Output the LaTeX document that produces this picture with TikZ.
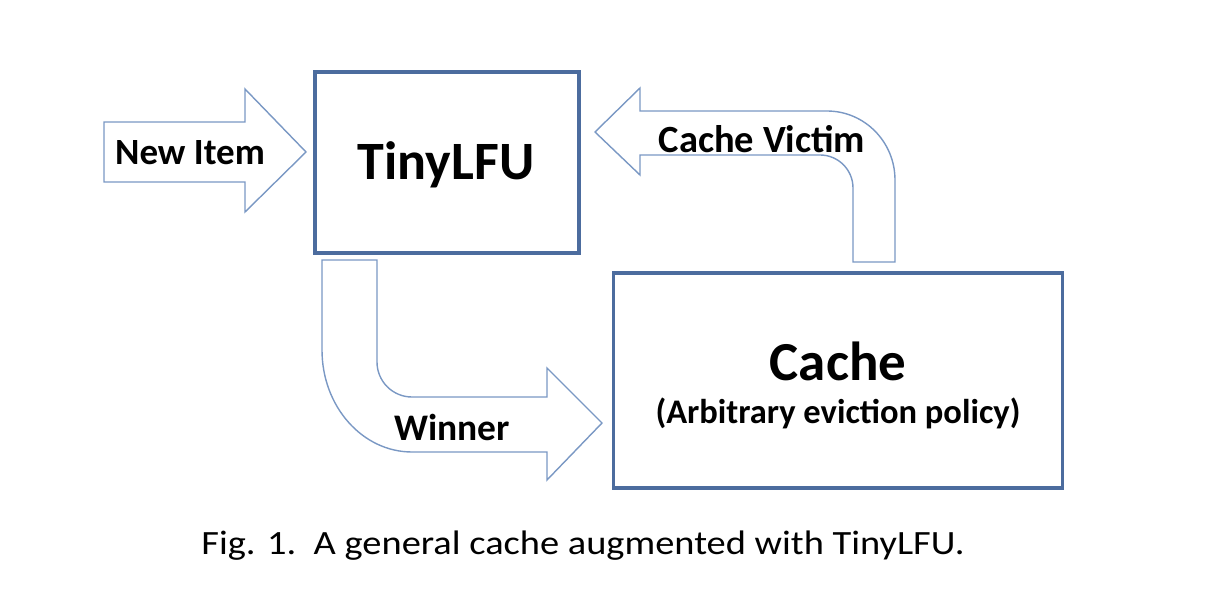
\documentclass[tikz,border=0pt]{standalone}
\usepackage{fontspec}
\setmainfont{Carlito}
\begin{document}
\begin{tikzpicture}[x=1pt,y=-1pt,
  boxline/.style={draw=boxblue,line width=3.5pt,fill=white},
  arrowline/.style={draw=arrblue,line width=1.4pt,fill=white,line join=miter},
  lbl/.style={font=\bfseries,inner sep=0pt,text=black}]
\definecolor{boxblue}{RGB}{76,108,158}
\definecolor{arrblue}{RGB}{122,152,196}
\useasboundingbox (0,0) rectangle (1210,604);
% boxes
\node[boxline,minimum width=264pt,minimum height=181pt,inner sep=0pt] (tiny) at (447,162.5) {};
\node[boxline,minimum width=449pt,minimum height=215pt,inner sep=0pt] (cache) at (838,380.5) {};
% New Item arrow
\draw[arrowline] (104,122) -- (245,122) -- (245,89) -- (306,152) -- (245,212) -- (245,182) -- (104,182) -- cycle;
% Cache Victim arrow
\draw[arrowline] (895,262) -- (895,180) arc[start angle=0,end angle=-90,x radius=68,y radius=69] -- (640,111) -- (640,88) -- (595,132) -- (640,175) -- (640,155) -- (820,155) arc[start angle=-90,end angle=0,radius=33] -- (853,262) -- cycle;
% Winner arrow
\draw[arrowline] (322,260) -- (377,260) -- (377,362) arc[start angle=180,end angle=90,radius=35] -- (547,397) -- (547,368) -- (602,423) -- (547,480) -- (547,452) -- (412,452) arc[start angle=90,end angle=180,x radius=90,y radius=102] -- cycle;
% labels
\node[lbl,font=\bfseries\fontsize{37}{40}\selectfont] (newitem) at (190,153) {New Item};
\node[lbl,font=\bfseries\fontsize{54}{58}\selectfont] (tinylbl) at (446,165) {TinyLFU};
\node[lbl,font=\bfseries\fontsize{38.5}{42}\selectfont] (victim) at (762,139) {Cache Victim};
\node[lbl,font=\bfseries\fontsize{37.5}{40}\selectfont] (winner) at (452,427) {Winner};
\node[lbl,font=\bfseries\fontsize{55}{58}\selectfont] (cachelbl) at (838,361) {Cache};
\node[lbl,font=\bfseries\fontsize{34.5}{38}\selectfont] (policy) at (838,413) {(Arbitrary eviction policy)};
\node[inner sep=0pt] (caption) at (583,546) {\scalebox{1.13}[1]{\fontsize{34}{36}\selectfont Fig. 1.\ \ A general cache augmented with TinyLFU.}};
\end{tikzpicture}
\end{document}
